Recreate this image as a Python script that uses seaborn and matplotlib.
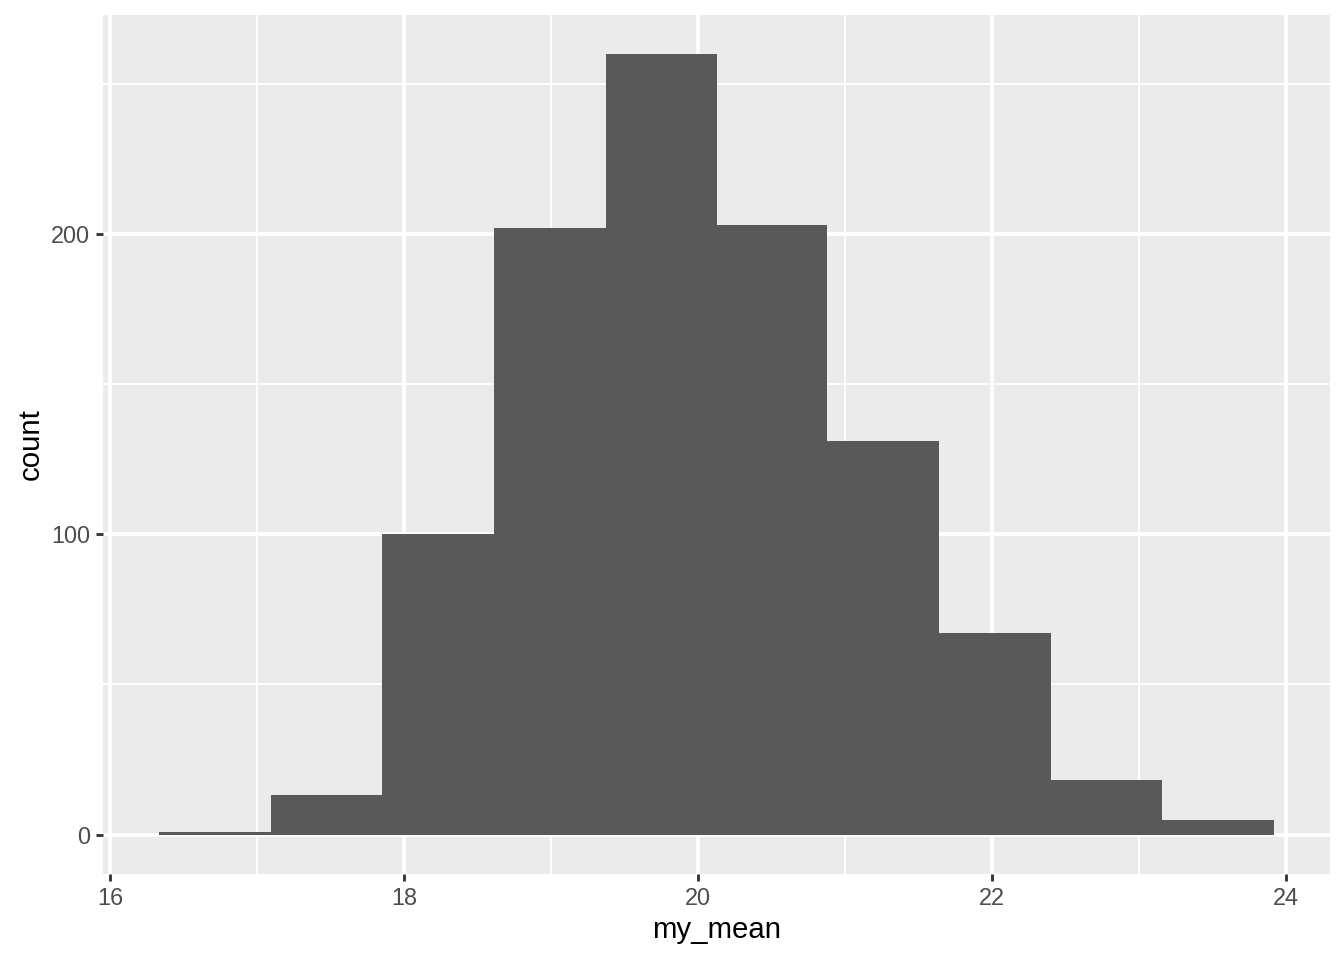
import numpy as np
import matplotlib
matplotlib.use('Agg')
import matplotlib.pyplot as plt
import seaborn as sns

# Bin edges and counts
bin_edges = [16.33, 17.09, 17.85, 18.61, 19.37, 20.13, 20.88, 21.64, 22.40, 23.16, 23.92]
bin_counts = [1, 13, 100, 202, 260, 203, 131, 67, 18, 5]
x_ticks = [16, 18, 20, 22, 24]
y_ticks = [0, 100, 200]

bin_centers = [(a + b) / 2 for a, b in zip(bin_edges[:-1], bin_edges[1:])]

sns.set_theme(style='darkgrid')
plt.rcParams['font.family'] = ['Liberation Sans', 'DejaVu Sans']

fig = plt.figure(figsize=(7, 5), dpi=192)
ax = fig.add_axes([0.0768, 0.0901, 0.9126, 0.8938])

# Draw the histogram through seaborn using the counts as weights
sns.histplot(x=bin_centers, weights=bin_counts, bins=bin_edges,
             color='#595959', alpha=1, edgecolor='none', linewidth=0, ax=ax)

# ggplot-like panel
ax.set_facecolor('#EBEBEB')
for s in ax.spines.values():
    s.set_visible(False)

span = bin_edges[-1] - bin_edges[0]
ax.set_xlim(bin_edges[0] - 0.05 * span, bin_edges[-1] + 0.05 * span)
ax.set_ylim(-0.05 * max(bin_counts), max(bin_counts) * 1.05)

ax.set_xticks(x_ticks)
ax.set_yticks(y_ticks)
ax.set_xticks([17, 19, 21, 23], minor=True)
ax.set_yticks([50, 150, 250], minor=True)
ax.grid(True, which='major', color='white', linewidth=1.42)
ax.grid(True, which='minor', color='white', linewidth=0.71)
ax.set_axisbelow(True)

ax.tick_params(axis='both', which='major', length=2.75, width=1.07,
               direction='out', bottom=True, left=True,
               color='#333333', labelcolor='#4D4D4D', labelsize=8.8, pad=2.2)
ax.tick_params(axis='both', which='minor', length=0)

ax.set_xlabel('my_mean', fontsize=11, color='black', labelpad=2.5)
ax.set_ylabel('count', fontsize=11, color='black', labelpad=2.5)

fig.savefig('out.png', dpi=192)
